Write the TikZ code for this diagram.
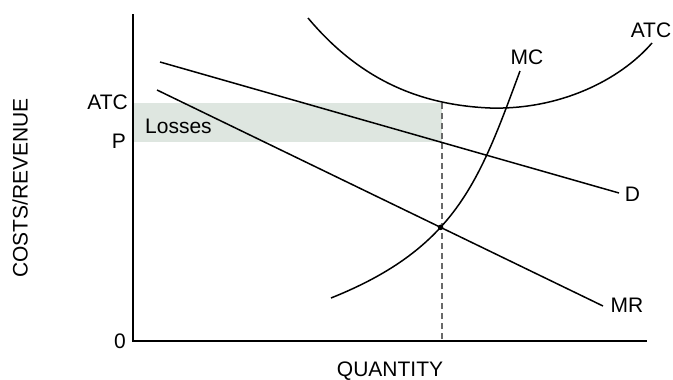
\documentclass[tikz,border=0pt]{standalone}
\usepackage{fontspec}
\setmainfont{Liberation Sans}
\usetikzlibrary{intersections}
\definecolor{lossfill}{RGB}{222,230,224}
\definecolor{dashgray}{RGB}{105,105,105}
\begin{document}
\begin{tikzpicture}[x=1pt,y=-1pt,
  curve/.style={line width=1.5pt},
  axisline/.style={line width=1.5pt},
  lbl/.style={inner sep=0pt, font=\fontsize{21}{25}\selectfont},
  dashline/.style={dashgray, line width=1.3pt, dash pattern=on 6pt off 4pt}]
\useasboundingbox (0,0) rectangle (673,380);
% losses area
\fill[lossfill] (133,103) rectangle (442,141.5);
% axes
\coordinate (ytop) at (133,14);
\coordinate (origin) at (133,341);
\coordinate (xend) at (647,341);
\draw[axisline] (ytop) -- (origin) -- (xend);
% dashed quantity line
\coordinate (qtop) at (442,103);
\coordinate (qbot) at (442,341);
\draw[dashline] (qtop) -- (qbot);
% labels
\node[lbl, anchor=east] (atcl) at (128,102) {ATC};
\node[lbl, anchor=east] (pl) at (126,141) {P};
\node[lbl, anchor=east] (zl) at (126,341) {0};
\node[lbl, anchor=west] (loss) at (145,126) {Losses};
\node[lbl] (mcl) at (527,57) {MC};
\node[lbl] (atcr) at (651,30) {ATC};
\node[lbl] (dl) at (632.5,194) {D};
\node[lbl] (mrl) at (627,305) {MR};
\node[lbl] (ql) at (390,371) {QUANTITY};
\node[lbl, rotate=90] (cl) at (20,188) {COSTS/REVENUE};
% demand
\coordinate (d0) at (160,62);
\coordinate (d1) at (619,193);
\draw[curve] (d0) -- (d1);
% marginal revenue
\coordinate (mr0) at (157,90);
\coordinate (mr1) at (603,306);
\draw[curve, name path=mr] (mr0) -- (mr1);
% ATC curve
\coordinate (atc0) at (308,18);
\coordinate (atcm) at (490,108);
\coordinate (atc1) at (652,43);
\draw[curve] (atc0) .. controls (360,80) and (420,105) .. (atcm)
  .. controls (560,110) and (620,80) .. (atc1);
% MC curve
\coordinate (mc0) at (331,298);
\coordinate (mc1) at (520,71);
\draw[curve, name path=mc] (mc0) .. controls (456,248) and (479.3,181) .. (mc1);
% equilibrium dot
\path[name intersections={of=mc and mr, by=eq}];
\fill (eq) circle (2.8);
\end{tikzpicture}
\end{document}
